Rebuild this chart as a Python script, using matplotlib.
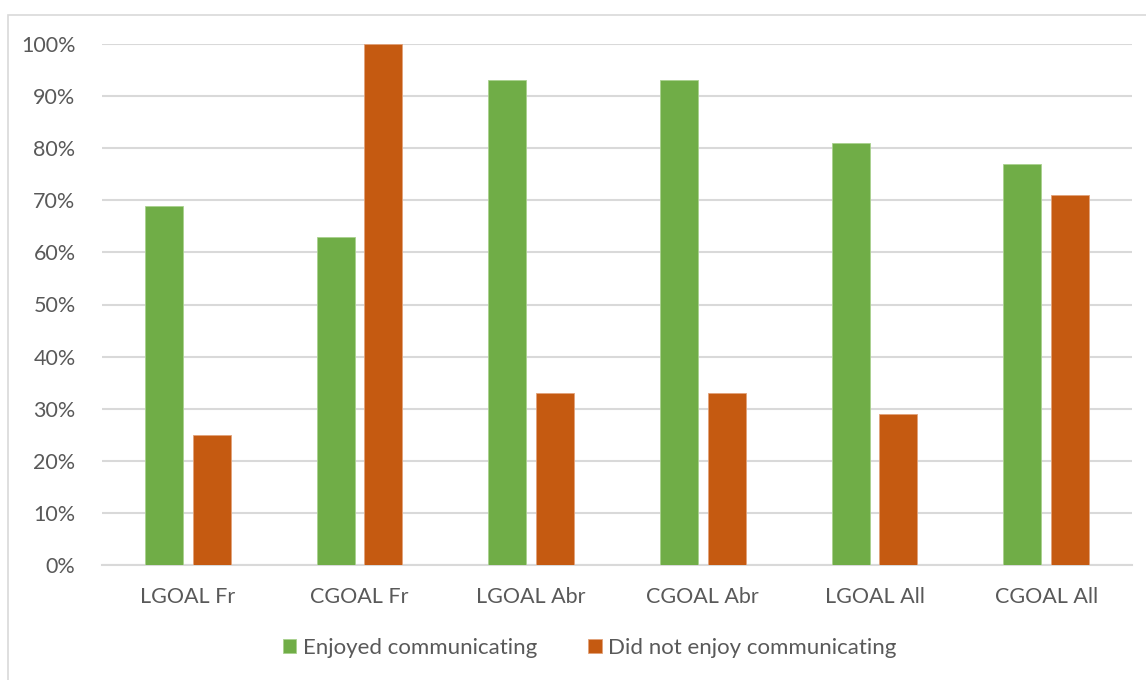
import matplotlib
matplotlib.use("Agg")
import matplotlib.pyplot as plt
import numpy as np
from matplotlib.patches import Rectangle

categories = ["LGOAL Fr", "CGOAL Fr", "LGOAL Abr", "CGOAL Abr", "LGOAL All", "CGOAL All"]
enjoyed = [69, 63, 93, 93, 81, 77]
not_enjoyed = [25, 100, 33, 33, 29, 71]
series_names = ["Enjoyed communicating", "Did not enjoy communicating"]
colors = ["#70AD47", "#C55A11"]
yticks = list(range(0, 101, 10))

plt.rcParams['font.family'] = ['Lato', 'DejaVu Sans']
text_color = "#595959"

fig = plt.figure(figsize=(11.46, 6.8), dpi=100)
ax = fig.add_axes([102/1146, 1-565/680, (1132-102)/1146, (565-44)/680])

# chart border
fig.patches.append(Rectangle((8/1146, -0.05), 1.2, 1.05 - 15/680, transform=fig.transFigure,
                             fill=False, edgecolor="#D9D9D9", linewidth=1.2, zorder=0))

x = np.arange(len(categories))
w = 0.22
gap = 0.058
ax.bar(x - (w + gap)/2, enjoyed, w, color=colors[0], label=series_names[0], zorder=3,
       edgecolor="#A9D18E", linewidth=0.6)
ax.bar(x + (w + gap)/2, not_enjoyed, w, color=colors[1], label=series_names[1], zorder=3,
       edgecolor="#E2A27A", linewidth=0.6)

ax.set_xlim(-0.5, len(categories) - 0.5)
ax.set_ylim(0, 100)
ax.set_yticks(yticks)
ax.set_yticklabels([f"{t}%" for t in yticks])
ax.set_xticks(x)
ax.set_xticklabels(categories)
ax.yaxis.grid(True, color="#D9D9D9", linewidth=1.5, zorder=0)
ax.set_axisbelow(True)
for s in ["top", "right", "left"]:
    ax.spines[s].set_visible(False)
ax.spines["bottom"].set_color("#D9D9D9")
ax.spines["bottom"].set_linewidth(1.5)
ax.tick_params(axis="both", length=0, labelsize=15.5, colors=text_color)
ax.tick_params(axis="y", pad=19)
ax.tick_params(axis="x", pad=16)

leg = fig.legend(loc="center", bbox_to_anchor=(590/1146, 1-648/680), ncol=2, frameon=False,
                 fontsize=16, handlelength=0.6, handleheight=0.6, handletextpad=0.3,
                 columnspacing=2.3)
for t in leg.get_texts():
    t.set_color(text_color)

fig.savefig("out.png", dpi=100)
